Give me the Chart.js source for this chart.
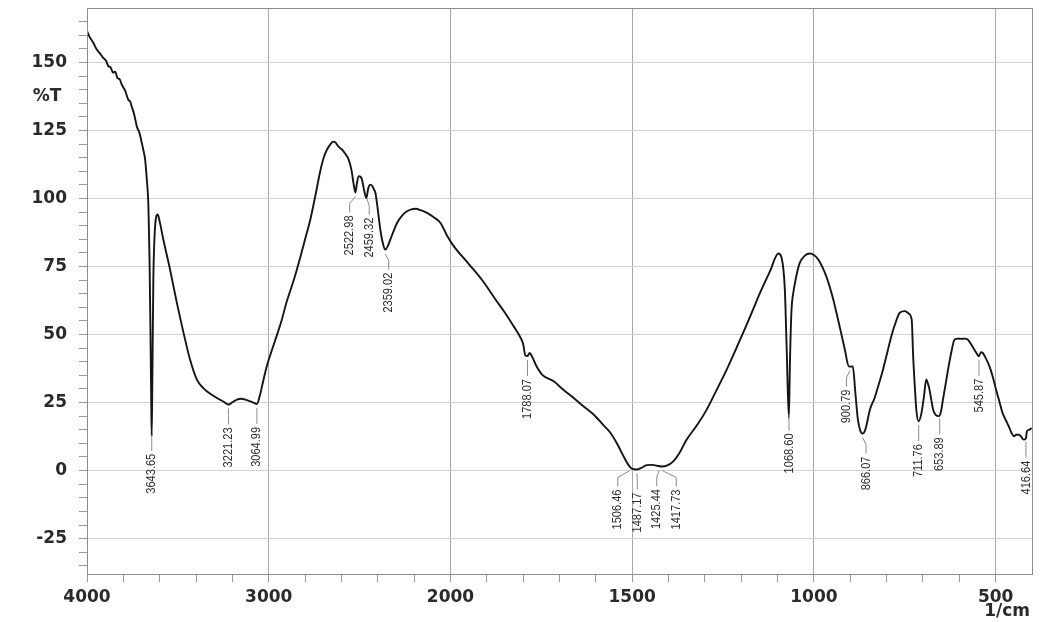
<!DOCTYPE html>
<html>
<head>
<meta charset="utf-8">
<script src="https://cdn.jsdelivr.net/npm/chart.js@4.4.1/dist/chart.umd.min.js"></script>
<style>
  html, body { margin: 0; padding: 0; background: #fff; }
  #wrap { width: 1051px; height: 622px; }
</style>
</head>
<body>
<div id="wrap"><canvas id="ftirChart" width="1051" height="622"></canvas></div>
<script>
// spectrum: wavenumber (1/cm) and transmittance (%T)
const wavenumbers = [
    4000, 3985, 3965, 3947, 3930, 3912, 3895, 3882, 3870, 3857, 3845, 3832, 3820, 3809,
    3790, 3772, 3762, 3754, 3740, 3726, 3712, 3699, 3690, 3680, 3671, 3662, 3656, 3651,
    3647, 3644, 3640, 3635, 3628, 3620, 3611, 3600, 3580, 3543, 3506, 3469, 3433, 3396,
    3360, 3341, 3285, 3250, 3221, 3200, 3175, 3150, 3129, 3100, 3085, 3065, 3048, 3037,
    3010, 2985, 2955, 2930, 2900, 2860, 2826, 2800, 2771, 2745, 2716, 2695, 2679, 2660,
    2645, 2634, 2620, 2610, 2597, 2580, 2560, 2545, 2532, 2523, 2515, 2505, 2495, 2487,
    2475, 2463, 2452, 2441, 2430, 2420, 2413, 2400, 2386, 2370, 2359, 2345, 2331, 2310,
    2294, 2265, 2239, 2215, 2193, 2160, 2129, 2090, 2055, 2020, 1991, 1950, 1910, 1876,
    1850, 1826, 1812, 1800, 1794, 1788, 1782, 1775, 1765, 1748, 1716, 1690, 1661, 1630,
    1606, 1580, 1560, 1540, 1524, 1510, 1501, 1487, 1475, 1460, 1445, 1432, 1418, 1405,
    1387, 1370, 1350, 1320, 1295, 1270, 1240, 1215, 1185, 1165, 1148, 1121, 1098, 1089,
    1080, 1075, 1069, 1066, 1062, 1056, 1052, 1045, 1039, 1025, 1011, 1000, 988, 966,
    950, 938, 925, 915, 904, 897, 893, 886, 879, 872, 866, 860, 856, 846,
    833, 822, 810, 798, 787, 775, 764, 750, 740, 731, 727, 722, 718, 712,
    704, 697, 691, 686, 683, 677, 672, 665, 656, 650, 645, 638, 631, 622,
    613, 604, 595, 586, 577, 568, 559, 552, 547, 540, 536, 528, 517, 508,
    499, 490, 481, 472, 464, 457, 450, 443, 436, 430, 423, 417, 414, 408, 401
];
const transmittance = [
    161.5, 159.3, 157.2, 154.8, 153.4, 151.8, 150.6, 148.6, 148.2, 146.3, 146.6, 144.2, 143.8, 141.9,
    139.6, 136.2, 135.6, 133.8, 130.8, 126.5, 124.2, 120.6, 117.8, 114.3, 107, 97, 78, 52,
    28, 12.6, 36, 70, 86.5, 93, 94.1, 91.5, 84.9, 73.9, 61.8, 50.7, 40.8, 33.5,
    30.3, 29.2, 26.7, 25.4, 24.3, 25.1, 26.1, 26.4, 26.1, 25.4, 25, 24.5, 27.8, 31,
    38.5, 43.8, 49.8, 55, 62.3, 70.5, 78.5, 85, 92.3, 100.5, 110.2, 115.5, 118, 120,
    120.9, 120.7, 119.4, 118.7, 118, 116.5, 114.3, 110.5, 105, 102.2, 105.5, 108.2, 108, 107,
    103, 100.2, 103.8, 105.1, 104.6, 103.2, 102.1, 96, 88.6, 83, 81.2, 82.5, 84.9, 88.5,
    91, 93.8, 95.3, 96, 96.2, 95.6, 94.7, 93, 91, 86.5, 82.5, 76, 69.5, 62.9,
    58, 53, 50, 46.5, 42.3, 42.1, 43.2, 41.8, 38.8, 35.3, 32.8, 29.8, 26.7, 23.2,
    20.6, 16.8, 13.9, 9.5, 5.3, 2, 0.7, 0.4, 1, 2, 2.1, 1.8, 1.5, 1.8,
    3.4, 6.5, 11.4, 17, 22.4, 29, 37.1, 44.5, 53.6, 60, 65.4, 73.2, 79.8, 78.2,
    66.5, 45, 19.4, 39.7, 58.1, 66, 69, 73.5, 76.3, 79, 79.8, 79.2, 77.6, 71.4,
    64.5, 58, 50.5, 44.5, 38.3, 38.2, 38.3, 28.6, 18.7, 14.5, 13.6, 14.5, 16.3, 22.4,
    26.7, 31.5, 37.1, 43.5, 49.4, 54.5, 58, 58.6, 57.8, 55.5, 42, 30, 22, 18.1,
    21.2, 27.5, 33.5, 31.8, 30.4, 26, 22.4, 20.5, 20, 22, 26.1, 31.5, 37.1, 43.5,
    48.2, 48.5, 48.4, 48.5, 48.2, 46.5, 44.5, 43, 42, 43.5, 43.3, 41.5, 38.3, 34.5,
    29.8, 25.5, 21.2, 18.5, 16.3, 14, 12.6, 13.2, 13.2, 12.5, 11.4, 11.8, 14.4, 15, 15.6
];

// picked peaks printed under the curve
const peakWavenumbers = [3643.65, 3221.23, 3064.99, 2522.98, 2459.32, 2359.02, 1788.07, 1506.46, 1487.17,
    1425.44, 1417.73, 1068.60, 900.79, 866.07, 711.76, 653.89, 545.87, 416.64];
const peakLabels = ['3643.65', '3221.23', '3064.99', '2522.98', '2459.32', '2359.02', '1788.07', '1506.46', '1487.17',
    '1425.44', '1417.73', '1068.60', '900.79', '866.07', '711.76', '653.89', '545.87', '416.64'];

// axes
const xMajorTicks = [4000, 3000, 2000, 1500, 1000, 500];
const yMajorTicks = [-25, 0, 25, 50, 75, 100, 125, 150];
const xTitle = '1/cm';
const yTitle = '%T';

// tick marks: 200 apart above 2000 1/cm, 100 apart below; 5 apart on %T
const xTicks = [];
for (let v = 4000; v > 2000; v -= 200) xTicks.push(v);
for (let v = 2000; v >= 500; v -= 100) xTicks.push(v);
const yTicks = [];
for (let v = -35; v <= 165; v += 5) yTicks.push(v);

// The instrument prints 1000 1/cm per division above 2000 and 500 per division below
class FtirScale extends Chart.LinearScale {
    _units(v) {
        return v >= 2000 ? (4000 - v) / 1000 : 2 + (2000 - v) / 500;
    }
    getPixelForValue(v) {
        return this.left + this._units(v) / this._units(this.min) * this.width;
    }
    getValueForPixel(p) {
        const u = (p - this.left) / this.width * this._units(this.min);
        return u <= 2 ? 4000 - u * 1000 : 2000 - (u - 2) * 500;
    }
}
FtirScale.id = 'ftir';
FtirScale.defaults = Chart.LinearScale.defaults;
Chart.register(FtirScale);

// linear lookup of %T at any wavenumber
function transmittanceAt(w) {
    for (let i = 0; i < wavenumbers.length - 1; i++) {
        const a = wavenumbers[i], b = wavenumbers[i + 1];
        if (w <= a && w >= b) {
            return transmittance[i] + (transmittance[i + 1] - transmittance[i]) * (a - w) / (a - b);
        }
    }
    return transmittance[transmittance.length - 1];
}

// push crowded labels apart, keeping each group centred on its peaks
function spreadLabels(marks, gap) {
    marks.sort((a, b) => a.px - b.px);
    const groups = marks.map(m => ({ items: [m], center: m.px }));
    let merged = true;
    while (merged) {
        merged = false;
        for (let i = 0; i < groups.length - 1; i++) {
            const a = groups[i], b = groups[i + 1];
            const aRight = a.center + (a.items.length - 1) * gap / 2;
            const bLeft = b.center - (b.items.length - 1) * gap / 2;
            if (bLeft - aRight < gap) {
                const items = a.items.concat(b.items);
                const center = items.reduce((s, m) => s + m.px, 0) / items.length;
                groups.splice(i, 2, { items, center });
                merged = true;
                break;
            }
        }
    }
    groups.forEach(g => g.items.forEach((m, k) => {
        m.lx = g.center + (k - (g.items.length - 1) / 2) * gap;
    }));
}

const frameAndTitles = {
    id: 'frameAndTitles',
    afterDraw(chart) {
        const { ctx, chartArea: area, scales: { y } } = chart;
        ctx.save();
        ctx.strokeStyle = '#8c8c8c';
        ctx.lineWidth = 1;
        ctx.strokeRect(area.left + 0.5, area.top + 0.5, area.right - area.left, area.bottom - area.top);

        ctx.fillStyle = '#2a2a2a';
        ctx.font = 'bold 17px "DejaVu Sans", sans-serif';
        ctx.textBaseline = 'middle';
        ctx.textAlign = 'center';
        ctx.fillText(yTitle, 47, y.getPixelForValue(137.5));
        ctx.textAlign = 'right';
        ctx.fillText(xTitle, 1030, 612);
        ctx.restore();
    }
};

const peakLabelPlugin = {
    id: 'peakLabels',
    afterDatasetsDraw(chart) {
        const { ctx, scales: { x, y } } = chart;
        const marks = peakWavenumbers.map((w, i) => ({
            text: peakLabels[i],
            px: x.getPixelForValue(w),
            py: y.getPixelForValue(transmittanceAt(w))
        }));
        spreadLabels(marks, 19.5);

        ctx.save();
        marks.forEach(m => {
            ctx.strokeStyle = '#8a8a8a';
            ctx.lineWidth = 1;
            ctx.beginPath();
            ctx.moveTo(m.px, m.py + 4);
            ctx.lineTo(m.lx, m.py + 11);
            ctx.lineTo(m.lx, m.py + 20);
            ctx.stroke();

            ctx.save();
            ctx.translate(m.lx, m.py + 23);
            ctx.rotate(-Math.PI / 2);
            ctx.scale(0.85, 1);
            ctx.font = '13px "Liberation Sans", Arial, sans-serif';
            ctx.fillStyle = '#2e2e2e';
            ctx.textAlign = 'right';
            ctx.textBaseline = 'middle';
            ctx.fillText(m.text, 0, 0);
            ctx.restore();
        });
        ctx.restore();
    }
};

const tickFont = { family: '"DejaVu Sans", sans-serif', size: 17, weight: 'bold' };

window.onload = () => {
    const ctx = document.getElementById('ftirChart').getContext('2d');
    new Chart(ctx, {
        type: 'line',
        data: {
            datasets: [{
                data: wavenumbers.map((w, i) => ({ x: w, y: transmittance[i] })),
                borderColor: '#151515',
                borderWidth: 1.9,
                pointRadius: 0,
                cubicInterpolationMode: 'monotone',
                fill: false
            }]
        },
        options: {
            responsive: false,
            devicePixelRatio: 1,
            animation: false,
            layout: { padding: { top: 8, right: 19, left: 0, bottom: 0 } },
            plugins: {
                legend: { display: false },
                tooltip: { enabled: false }
            },
            scales: {
                x: {
                    type: 'ftir',
                    min: 400,
                    max: 4000,
                    afterBuildTicks: s => { s.ticks = xTicks.map(v => ({ value: v })); },
                    afterFit: s => { s.height = 48; s.paddingLeft = 0; s.paddingRight = 0; },
                    ticks: {
                        autoSkip: false,
                        maxRotation: 0,
                        padding: 5,
                        color: '#2a2a2a',
                        font: tickFont,
                        callback: v => xMajorTicks.includes(v) ? String(v) : ''
                    },
                    grid: {
                        color: c => xMajorTicks.includes(c.tick && c.tick.value) ? '#a8a8a8' : 'rgba(0,0,0,0)',
                        tickColor: '#9a9a9a',
                        tickLength: 8
                    },
                    border: { color: '#8c8c8c' }
                },
                y: {
                    type: 'linear',
                    min: -38,
                    max: 170,
                    afterBuildTicks: s => { s.ticks = yTicks.map(v => ({ value: v })); },
                    afterFit: s => { s.width = 87; s.paddingTop = 0; s.paddingBottom = 0; },
                    ticks: {
                        autoSkip: false,
                        padding: 12,
                        color: '#2a2a2a',
                        font: tickFont,
                        callback: v => yMajorTicks.includes(v) ? String(v) : ''
                    },
                    grid: {
                        color: c => yMajorTicks.includes(c.tick && c.tick.value) ? '#d2d2d2' : 'rgba(0,0,0,0)',
                        tickColor: '#9a9a9a',
                        tickLength: 8
                    },
                    border: { color: '#8c8c8c' }
                }
            }
        },
        plugins: [frameAndTitles, peakLabelPlugin]
    });
};
</script>
</body>
</html>
